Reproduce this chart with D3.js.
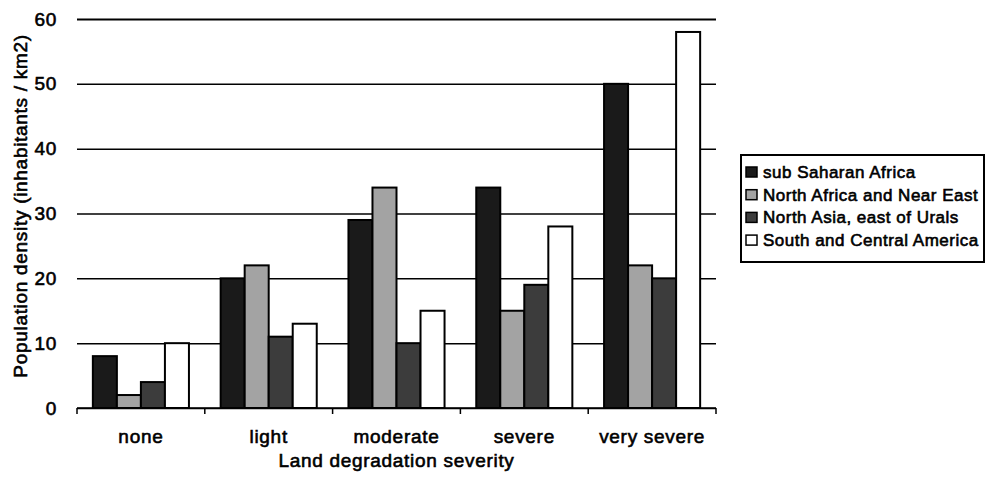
<!DOCTYPE html>
<html>
<head>
<meta charset="utf-8">
<script src="https://cdn.jsdelivr.net/npm/d3@7"></script>
<style>
  body { margin: 0; background: #fff; }
  svg text { font-family: 'Liberation Sans', Arial, sans-serif; fill: #000; stroke: #000; stroke-width: 0.6px; letter-spacing: 0.7px; }
</style>
</head>
<body>
<script>
const categories = ['none', 'light', 'moderate', 'severe', 'very severe'];
const series = ['sub Saharan Africa', 'North Africa and Near East', 'North Asia, east of Urals', 'South and Central America'];
const subSaharan = [8, 20, 29, 34, 50];
const northAfrica = [2, 22, 34, 15, 22];
const northAsia = [4, 11, 10, 19, 20];
const southAmerica = [10, 13, 15, 28, 58];
const yTicks = [0, 10, 20, 30, 40, 50, 60];

const values = [subSaharan, northAfrica, northAsia, southAmerica];
const fills = ['#1a1a1a', '#a3a3a3', '#3c3c3c', '#ffffff'];

const width = 992;
const height = 479;
const plotLeft = 77;
const plotRight = 716;
const plotTop = 19;
const plotBottom = 408;

const svg = d3.select('body').append('svg').attr('width', width).attr('height', height);

const x0 = d3.scaleBand().domain(categories).range([plotLeft, plotRight]);
const x1 = d3.scaleBand().domain(series).range([0, x0.bandwidth()]).paddingOuter(0.66);
const y = d3.scaleLinear().domain([0, 60]).range([plotBottom, plotTop]);
const color = d3.scaleOrdinal().domain(series).range(fills);

// gridlines + tick labels
const yAxis = svg.append('g')
	.attr('transform', `translate(${plotLeft},0)`)
	.call(d3.axisLeft(y).tickValues(yTicks).tickSize(-(plotRight - plotLeft)).tickPadding(20));
yAxis.select('.domain').remove();
yAxis.selectAll('line')
	.attr('stroke', '#000')
	.attr('stroke-width', (d) => (d === 60 ? 2 : 1.5));
yAxis.selectAll('text').style('font-size', '19px').attr('font-family', null).attr('font-size', null);

// bars
const rows = [];
categories.forEach((c, i) => {
	series.forEach((s, j) => rows.push({ cat: c, ser: s, val: values[j][i] }));
});

svg.append('g')
	.selectAll('rect')
	.data(rows)
	.enter()
	.append('rect')
	.attr('x', (d) => x0(d.cat) + x1(d.ser))
	.attr('y', (d) => y(d.val))
	.attr('width', x1.bandwidth())
	.attr('height', (d) => y(0) - y(d.val))
	.attr('fill', (d) => color(d.ser))
	.attr('stroke', '#000')
	.attr('stroke-width', 2);

// x axis
svg.append('line')
	.attr('x1', plotLeft).attr('x2', plotRight)
	.attr('y1', y(0)).attr('y2', y(0))
	.attr('stroke', '#000').attr('stroke-width', 1.5);

const bounds = categories.map((c) => x0(c)).concat([x0.range()[1]]);
svg.append('g')
	.selectAll('line')
	.data(bounds)
	.enter()
	.append('line')
	.attr('x1', (d) => d).attr('x2', (d) => d)
	.attr('y1', y(0)).attr('y2', y(0) + 6)
	.attr('stroke', '#000').attr('stroke-width', 1.5);

svg.append('g')
	.selectAll('text')
	.data(categories)
	.enter()
	.append('text')
	.attr('x', (d) => x0(d) + x0.bandwidth() / 2)
	.attr('y', 443)
	.attr('text-anchor', 'middle')
	.style('font-size', '19px')
	.text((d) => d);

// axis titles
svg.append('text')
	.attr('x', (plotLeft + plotRight) / 2)
	.attr('y', 467)
	.attr('text-anchor', 'middle')
	.style('font-size', '19px')
	.text('Land degradation severity');

svg.append('text')
	.attr('transform', 'translate(27,206) rotate(-90)')
	.attr('text-anchor', 'middle')
	.style('font-size', '19px')
	.text('Population density (inhabitants / km2)');

// legend
const legend = svg.append('g').attr('transform', 'translate(741,155)');
legend.append('rect')
	.attr('width', 243).attr('height', 107)
	.attr('fill', '#fff').attr('stroke', '#000').attr('stroke-width', 2);

const item = legend.selectAll('g')
	.data(series)
	.enter()
	.append('g')
	.attr('transform', (d, i) => `translate(0,${17 + i * 22.7})`);

item.append('rect')
	.attr('x', 5).attr('y', -5)
	.attr('width', 11).attr('height', 10)
	.attr('fill', (d) => color(d))
	.attr('stroke', '#000').attr('stroke-width', 1.5);

item.append('text')
	.attr('x', 22)
	.attr('y', 6)
	.style('font-size', '17px')
	.style('letter-spacing', '0.5px')
	.text((d) => d);
</script>
</body>
</html>
